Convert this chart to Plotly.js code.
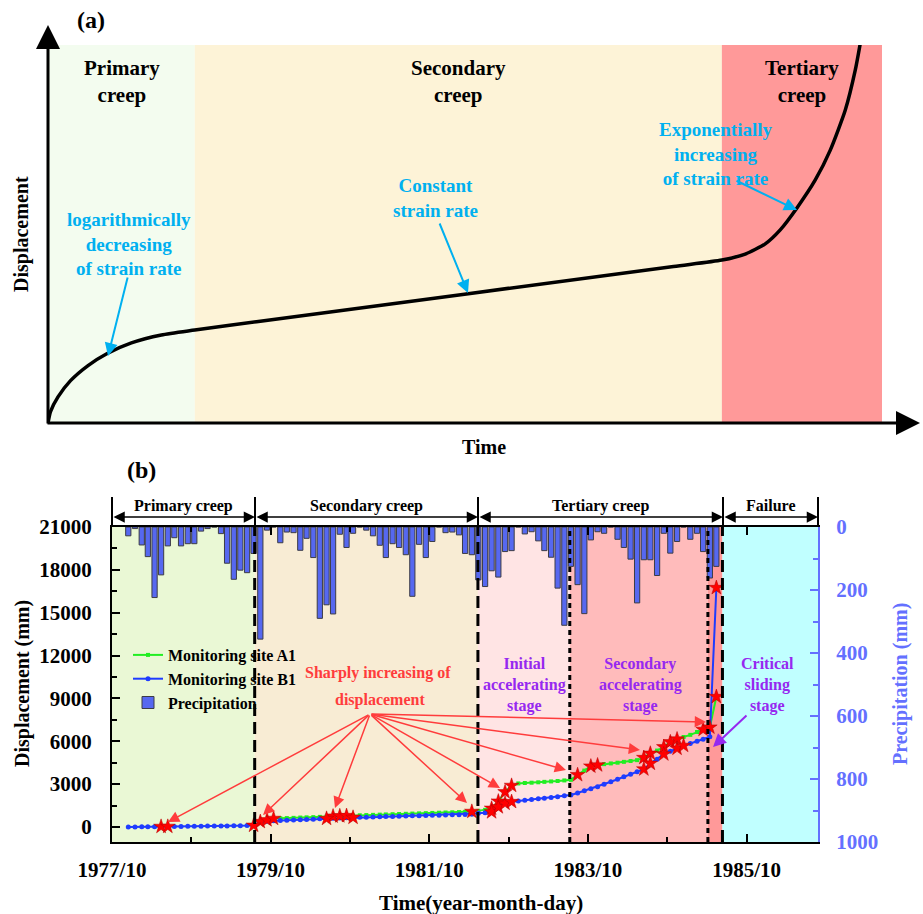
<!DOCTYPE html>
<html><head><meta charset="utf-8">
<script src="https://cdn.plot.ly/plotly-3.0.1.min.js"></script>
<style>html,body{margin:0;padding:0;background:#fff}#chart{width:923px;height:914px}</style>
</head><body><div id="chart"></div>
<script>
const W = 923, H = 914;
const FONT = 'Liberation Serif, Times New Roman, serif';

// ---------- Panel (b) data ----------
const startMonth = '1977-12';       // first monthly record (plotted mid-month)
const precipitation = [
  28,5,57,94,224,152,60,34,60,53,
  53,13,5,0,21,115,166,137,145,84,
  356,10,0,50,16,18,74,36,97,290,
  247,276,23,65,20,0,10,28,58,97,
  53,65,88,220,55,97,46,0,18,16,
  25,84,88,168,189,139,159,78,75,0,
  22,15,44,75,96,194,312,125,183,275,
  41,15,20,0,39,65,102,241,104,104,
  154,20,83,46,0,39,20,78,162,125];
const siteA1 = [
  null,null,null,null,null,null,null,null,null,null,
  null,null,null,null,null,null,null,null,null,null,
  370,490,590,
  610,625,640,660,675,690,710,730,750,770,790,805,820,
  835,850,865,880,895,910,925,940,955,970,985,1000,1015,1030,1045,1060,1080,
  1130,1200,1300,1800,2450,2900,3050,
  3080,3100,3130,3160,3190,3220,3260,3300,3650,3950,4250,4330,4400,4450,4500,4560,4620,4680,
  4850,5150,5350,5600,5950,6150,6300,6450,6650,6820,6980,
  9120];
const siteB1 = [
  0,4,10,14,22,30,33,38,42,47,52,58,63,67,72,78,84,90,98,110,
  350,400,
  430,450,470,490,510,530,550,570,590,610,630,645,665,680,690,700,715,730,740,750,765,780,790,800,815,830,840,850,865,880,900,
  960,990,1050,1400,1650,1770,1820,
  1870,1920,1970,2020,2070,2120,2180,2240,2380,2530,2680,2820,3000,3170,3340,3520,3690,3860,
  4050,4450,4750,5100,5300,5500,5700,5850,6000,6150,6320,
  16750];
// months (indices) flagged with red stars: sharp increases of displacement
const starsA1 = [20,21,22,31,32,33,52,55,56,57,58,68,70,71,78,79,81,82,83,87,88,89];
const starsB1 = [5,6,19,30,34,55,56,57,58,78,79,81,83,84,89];
const stageBounds = ['1979-07-20','1982-05-13','1983-07-10','1985-04-06','1985-06-12'];
const xStart = '1977-10-01', xEnd = '1986-08-26';
const dispTicks = [0,3000,6000,9000,12000,15000,18000,21000];
const precipTicks = [0,200,400,600,800,1000];

// ---------- Panel (a) data (conceptual creep curve) ----------
const conceptTime = [0,0.3,1.2,2.7,4.8,7.1,10,13.6,17.6,25,75,80.8,83.6,86.0,87.8,89.8,92.0,93.8,95.6,96.8,97.4];
const conceptDisp = [0,3.0,6.9,11.2,15.2,18.4,21.2,23.3,24.6,26.8,41.4,43.1,44.7,47.4,51.1,56.9,64.3,72.2,82.8,93.4,100.5];
const conceptStages = [0,17.6,80.8,100];

// ---------- helpers ----------
function monthDates(start, n){
  const [y,m] = start.split('-').map(Number); const out = [];
  for(let i=0;i<n;i++){ const mm=m-1+i; const yy=y+Math.floor(mm/12); const mo=mm%12+1;
    out.push(yy+'-'+String(mo).padStart(2,'0')+'-15'); }
  return out;
}
const px = x => x/W, py = y => 1 - y/H;
function txt(x,y,text,size,color,extra){
  return Object.assign({xref:'paper',yref:'paper',x:px(x),y:py(y),text:'<b>'+text+'</b>',showarrow:false,
    xanchor:'center',yanchor:'middle',font:{family:FONT,size:size,color:color||'#000'}},extra||{});
}
function arrow(x1,y1,x2,y2,color,width,size,extra){
  return Object.assign({xref:'paper',yref:'paper',x:px(x2),y:py(y2),ax:x1-x2,ay:y1-y2,axref:'pixel',ayref:'pixel',
    text:'',showarrow:true,arrowhead:2,arrowsize:size,arrowwidth:width,arrowcolor:color,standoff:0,startstandoff:0},extra||{});
}

const dates = monthDates(startMonth, precipitation.length);
const domB = {x:[112/W, 818/W], y:[1-842/H, 1-527/H]};
const domA = {x:[48/W, 882/W], y:[1-423/H, 1-45/H]};

const traces = [
  {x:dates, y:siteA1, type:'scatter', mode:'lines+markers', name:'Monitoring site A1', xaxis:'x', yaxis:'y2',
   line:{color:'#22ee22', width:2}, marker:{symbol:'square', size:4, color:'#22ee22'}},
  {x:dates, y:siteB1, type:'scatter', mode:'lines+markers', name:'Monitoring site B1', xaxis:'x', yaxis:'y2',
   line:{color:'#1f3cff', width:2}, marker:{symbol:'circle', size:5, color:'#1f3cff'}},
  {x:dates, y:precipitation, type:'bar', name:'Precipitation', xaxis:'x', yaxis:'y',
   marker:{color:'rgb(86,104,240)', line:{color:'rgb(60,60,70)', width:1}}},
  {x:starsA1.map(i=>dates[i]), y:starsA1.map(i=>siteA1[i]), type:'scatter', mode:'markers', showlegend:false,
   xaxis:'x', yaxis:'y2', cliponaxis:false, marker:{symbol:'star', size:11, color:'#ff0000', line:{color:'#b00000', width:0.5}}},
  {x:starsB1.map(i=>dates[i]), y:starsB1.map(i=>siteB1[i]), type:'scatter', mode:'markers', showlegend:false,
   xaxis:'x', yaxis:'y2', cliponaxis:false, marker:{symbol:'star', size:11, color:'#ff0000', line:{color:'#b00000', width:0.5}}},
  {x:conceptTime, y:conceptDisp, type:'scatter', mode:'lines', showlegend:false, xaxis:'x3', yaxis:'y3', cliponaxis:false,
   line:{color:'#000', width:3.5, shape:'spline', smoothing:0.6}}
];

const shapes = [];
// panel (b) stage backgrounds
const bgB = ['rgb(234,248,213)','rgb(248,236,212)','rgb(255,228,228)','rgb(255,187,187)','rgb(255,153,153)','rgb(192,255,255)'];
const edgesB = [xStart].concat(stageBounds).concat([xEnd]);
for(let i=0;i<bgB.length;i++){
  shapes.push({type:'rect', xref:'x', yref:'y domain', x0:edgesB[i], x1:edgesB[i+1], y0:0, y1:1,
    fillcolor:bgB[i], line:{width:0}, layer:'below'});
}
// stage boundary lines
const dashStyle = ['12px,6px','12px,6px','5px,4px','5px,4px','12px,6px'];
stageBounds.forEach((d,i)=>{
  shapes.push({type:'line', xref:'x', yref:'y domain', x0:d, x1:d, y0:0, y1:1,
    line:{color:'#000', width:3, dash:dashStyle[i]}, layer:'above'});
});
// panel (a) backgrounds
const bgA = ['rgb(243,252,239)','rgb(253,243,215)','rgb(255,153,153)'];
for(let i=0;i<bgA.length;i++){
  shapes.push({type:'rect', xref:'x3', yref:'y3', x0:conceptStages[i], x1:conceptStages[i+1], y0:0, y1:100,
    fillcolor:bgA[i], line:{width:0}, layer:'below'});
}
// header bars of panel (b)
[112,255,478,723,818].forEach(x=>{
  shapes.push({type:'line', xref:'paper', yref:'paper', x0:px(x), x1:px(x), y0:py(497), y1:py(527), line:{color:'#000', width:2}});
});

const ann = [];
// panel (a)
ann.push(txt(91,20,'(a)',24));
ann.push(arrow(48,425,48,25,'#000',3,1.6));
ann.push(arrow(46,423,920,423,'#000',3,1.6));
ann.push(txt(122,82,'Primary<br>creep',21));
ann.push(txt(458,82,'Secondary<br>creep',21));
ann.push(txt(802,82,'Tertiary<br>creep',21));
const cyan = 'rgb(0,176,240)';
ann.push(txt(129,244,'logarithmically<br>decreasing<br>of strain rate',19,cyan));
ann.push(txt(435,198,'Constant<br>strain rate',19,cyan));
ann.push(txt(715,154,'Exponentially<br>increasing<br>of strain rate',19,cyan));
ann.push(arrow(128,276,108,356,cyan,2,1.3));
ann.push(arrow(439,222,468,293,cyan,2,1.3));
ann.push(arrow(735,180,797,210,cyan,2,1.3));
ann.push(txt(21,234,'Displacement',20,'#000',{textangle:-90}));
ann.push(txt(484,447,'Time',20));
// panel (b)
ann.push(txt(141,470,'(b)',24));
[[112,255,'Primary creep'],[255,478,'Secondary creep'],[478,723,'Tertiary creep'],[723,818,'Failure']].forEach(s=>{
  ann.push(arrow(s[0],517,s[1],517,'#000',1.5,1.5,{arrowside:'end+start',startarrowhead:2,startarrowsize:1.5}));
  ann.push(txt((s[0]+s[1])/2,506,s[2],16));
});
const red = 'rgb(255,60,60)';
ann.push(txt(378,673,'Sharply increasing of',16,red));
ann.push(txt(380,700,'displacement',16,red));
[[168,822],[263,815],[335,808],[467,803],[500,788],[566,770],[640,750],[706,722]].forEach(t=>{
  ann.push(arrow(370,714,t[0],t[1],red,1.5,1.5));
});
const purple = 'rgb(150,40,240)';
ann.push(txt(524,685,'Initial<br>accelerating<br>stage',16,purple));
ann.push(txt(640,685,'Secondary<br>accelerating<br>stage',16,purple));
ann.push(txt(767,685,'Critical<br>sliding<br>stage',16,purple));
ann.push(arrow(748,714,713,747,purple,2,1.3));
// axis titles
ann.push(txt(22,684,'Displacement (mm)',20,'#000',{textangle:-90}));
ann.push(txt(900,684,'Precipitation (mm)',20,'rgb(100,112,255)',{textangle:-90}));
ann.push(txt(481,903,'Time(year-month-day)',21));

const tickFont = {family:FONT, size:21, color:'#000', weight:'bold'};
const blue = 'rgb(100,112,255)';
const layout = {
  width:W, height:H, margin:{l:0,r:0,t:0,b:0}, paper_bgcolor:'#fff', plot_bgcolor:'rgba(0,0,0,0)',
  showlegend:true, bargap:0.14,
  legend:{x:px(128), y:py(638), xanchor:'left', yanchor:'top', bgcolor:'rgba(0,0,0,0)',
    font:{family:FONT, size:16, color:'#000', weight:'bold'}, tracegroupgap:0},
  xaxis:{domain:domB.x, anchor:'y', type:'date', range:[xStart,xEnd], tick0:xStart, dtick:'M24', tickformat:'%Y/%m',
    ticks:'inside', ticklen:8, tickwidth:2, tickcolor:'#000', showline:true, linecolor:'#000', linewidth:2, mirror:'ticks',
    showgrid:false, zeroline:false, tickfont:tickFont, ticklabelstandoff:8,
    minor:{tick0:xStart, dtick:'M12', ticks:'inside', ticklen:5, tickwidth:2, tickcolor:'#000', showgrid:false}},
  yaxis:{domain:domB.y, anchor:'x', side:'right', range:[1000,0], tickvals:precipTicks, ticks:'inside', ticklen:8, tickwidth:2,
    tickcolor:blue, showline:true, linecolor:blue, linewidth:2, showgrid:false, zeroline:false, tickformat:'d',
    tickfont:Object.assign({}, tickFont, {color:blue}), ticklabelstandoff:12,
    minor:{dtick:100, ticks:'inside', ticklen:5, tickwidth:2, tickcolor:blue, showgrid:false}},
  yaxis2:{overlaying:'y', anchor:'x', side:'left', range:[-1050,21000], tickvals:dispTicks, ticks:'inside', ticklen:8, tickwidth:2,
    tickcolor:'#000', showline:true, linecolor:'#000', linewidth:2, showgrid:false, zeroline:false, tickformat:'d',
    tickfont:tickFont, ticklabelstandoff:14,
    minor:{tick0:0, dtick:1500, ticks:'inside', ticklen:5, tickwidth:2, tickcolor:'#000', showgrid:false}},
  xaxis3:{domain:domA.x, anchor:'y3', range:[0,100], visible:false, fixedrange:true},
  yaxis3:{domain:domA.y, anchor:'x3', range:[0,100], visible:false, fixedrange:true},
  shapes:shapes, annotations:ann
};
Plotly.newPlot('chart', traces, layout, {displayModeBar:false, staticPlot:true});
</script></body></html>
